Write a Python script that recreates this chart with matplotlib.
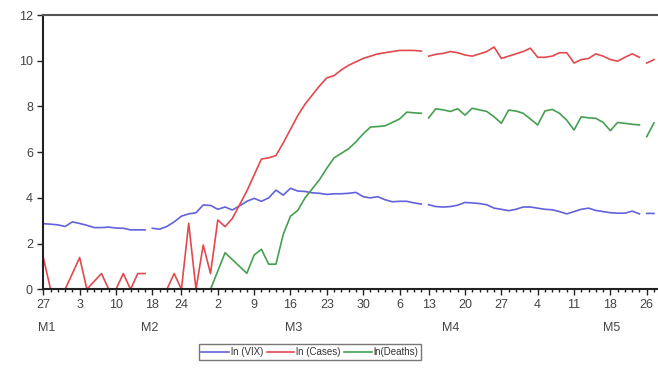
import numpy as np
import pandas as pd
import matplotlib
matplotlib.use('Agg')
import matplotlib.pyplot as plt

plt.rcParams['font.family'] = ['Liberation Sans', 'DejaVu Sans']

# trading days, Jan 27 - May 27 2020 (US market holidays removed)
holidays = ['2020-02-17', '2020-04-10', '2020-05-25']
dates = pd.bdate_range('2020-01-27', '2020-05-27', freq='C', holidays=holidays)

ln_vix = [2.87, 2.85, 2.82, 2.75, 2.95, 2.88, 2.80, 2.70, 2.70, 2.72,
          2.68, 2.67, 2.60, 2.60, 2.60, 2.67, 2.63, 2.75, 2.95, 3.20,
          3.30, 3.35, 3.69, 3.67, 3.50, 3.60, 3.47, 3.65, 3.85, 3.98,
          3.85, 4.00, 4.34, 4.12, 4.42, 4.30, 4.28, 4.22, 4.20, 4.15,
          4.18, 4.18, 4.20, 4.24, 4.05, 4.00, 4.05, 3.92, 3.83, 3.85,
          3.85, 3.78, 3.73, 3.70, 3.62, 3.60, 3.62, 3.68, 3.80, 3.78,
          3.75, 3.70, 3.55, 3.50, 3.44, 3.50, 3.60, 3.60, 3.55, 3.50,
          3.48, 3.40, 3.30, 3.40, 3.50, 3.55, 3.45, 3.40, 3.35, 3.33,
          3.33, 3.42, 3.30, 3.32, 3.32]

ln_cases = [1.39, 0, 0, 0, 0.69, 1.39, 0, 0.35, 0.69, 0,
            0, 0.69, 0, 0.69, 0.69, 0, 0, 0, 0.69, 0,
            2.89, 0, 1.94, 0.69, 3.03, 2.74, 3.10, 3.70, 4.30, 5.00,
            5.70, 5.75, 5.85, 6.40, 7.00, 7.60, 8.10, 8.50, 8.90, 9.25,
            9.35, 9.60, 9.80, 9.95, 10.10, 10.20, 10.30, 10.35, 10.40, 10.45,
            10.45, 10.45, 10.42, 10.20, 10.28, 10.32, 10.40, 10.35, 10.25, 10.20,
            10.30, 10.40, 10.60, 10.10, 10.20, 10.30, 10.40, 10.55, 10.15, 10.15,
            10.20, 10.35, 10.35, 9.90, 10.05, 10.10, 10.30, 10.20, 10.05, 9.98,
            10.15, 10.30, 10.15, 9.90, 10.05]

ln_deaths = [np.nan] * 23 + [
            0, 0.80, 1.60, 1.30, 1.00, 0.70, 1.50,
            1.75, 1.10, 1.10, 2.40, 3.20, 3.45, 4.00, 4.40, 4.80, 5.30,
            5.75, 5.95, 6.15, 6.45, 6.80, 7.10, 7.12, 7.15, 7.30, 7.45,
            7.75, 7.72, 7.70, 7.50, 7.90, 7.85, 7.78, 7.90, 7.62, 7.92,
            7.85, 7.78, 7.55, 7.26, 7.84, 7.80, 7.70, 7.45, 7.19, 7.80,
            7.87, 7.70, 7.40, 6.97, 7.55, 7.50, 7.48, 7.30, 6.94, 7.30,
            7.26, 7.22, 7.19, 6.68, 7.28]

month_labels = ['M1', 'M2', 'M3', 'M4', 'M5']
month_pos = [0.4, 14.7, 34.5, 56.1, 78.2]

x = np.arange(len(dates), dtype=float)
# line breaks across the holidays
d64 = dates.values.astype('datetime64[D]')
breaks = [i for i in range(len(d64) - 1) if np.busday_count(d64[i], d64[i + 1]) > 1]


def with_breaks(vals):
    xs, ys = x.copy(), np.array(vals, dtype=float)
    for b in reversed(breaks):
        xs = np.insert(xs, b + 1, b + 0.5)
        ys = np.insert(ys, b + 1, np.nan)
    return xs, ys


fig = plt.figure(figsize=(6.58, 3.75), dpi=100)
ax = fig.add_axes([0.0658, 0.2285, 0.9342, 0.7315])

series = [(ln_vix, '#6262dc', 'ln (VIX)'),
          (ln_cases, '#e2494e', 'ln (Cases)'),
          (ln_deaths, '#44a050', 'ln(Deaths)')]
for vals, col, lab in series:
    xs, ys = with_breaks(vals)
    ax.plot(xs, ys, color=col, lw=1.2, label=lab)

ax.set_xlim(0, 84.55)
ax.set_ylim(0, 12)
ax.set_yticks(range(0, 13, 2))

# weekly labels on first trading day of each week
week = dates.isocalendar().week.values
major = [0] + [i for i in range(1, len(dates)) if week[i] != week[i - 1]]
ax.set_xticks(major)
ax.set_xticklabels([str(dates[i].day) for i in major])
ax.set_xticks(x, minor=True)
ax.tick_params(axis='x', which='major', length=4, width=1, colors='#222222',
               labelcolor='#444444', labelsize=9, pad=3)
ax.tick_params(axis='x', which='minor', length=2.5, width=1, colors='#222222')
ax.tick_params(axis='y', length=4, width=1, colors='#222222',
               labelcolor='#444444', labelsize=9)

for lab, p in zip(month_labels, month_pos):
    ax.text(p, -0.14, lab, transform=ax.get_xaxis_transform(), ha='center',
            va='center', fontsize=9, color='#444444')

ax.spines['right'].set_visible(False)
ax.spines['left'].set_color('#222222')
ax.spines['bottom'].set_color('#222222')
ax.spines['top'].set_color('#555555')
for s in ['left', 'bottom', 'top']:
    ax.spines[s].set_linewidth(1.5)

leg = fig.legend(loc='center', bbox_to_anchor=(310 / 658, 1 - 352 / 375), ncol=3,
                 fontsize=7, frameon=True, fancybox=False, edgecolor='#555555',
                 handlelength=2.8, handletextpad=0.2, columnspacing=0.4,
                 borderpad=0.3, labelcolor='#333333')
leg.get_frame().set_linewidth(1.0)

fig.savefig('out.png', dpi=100)
